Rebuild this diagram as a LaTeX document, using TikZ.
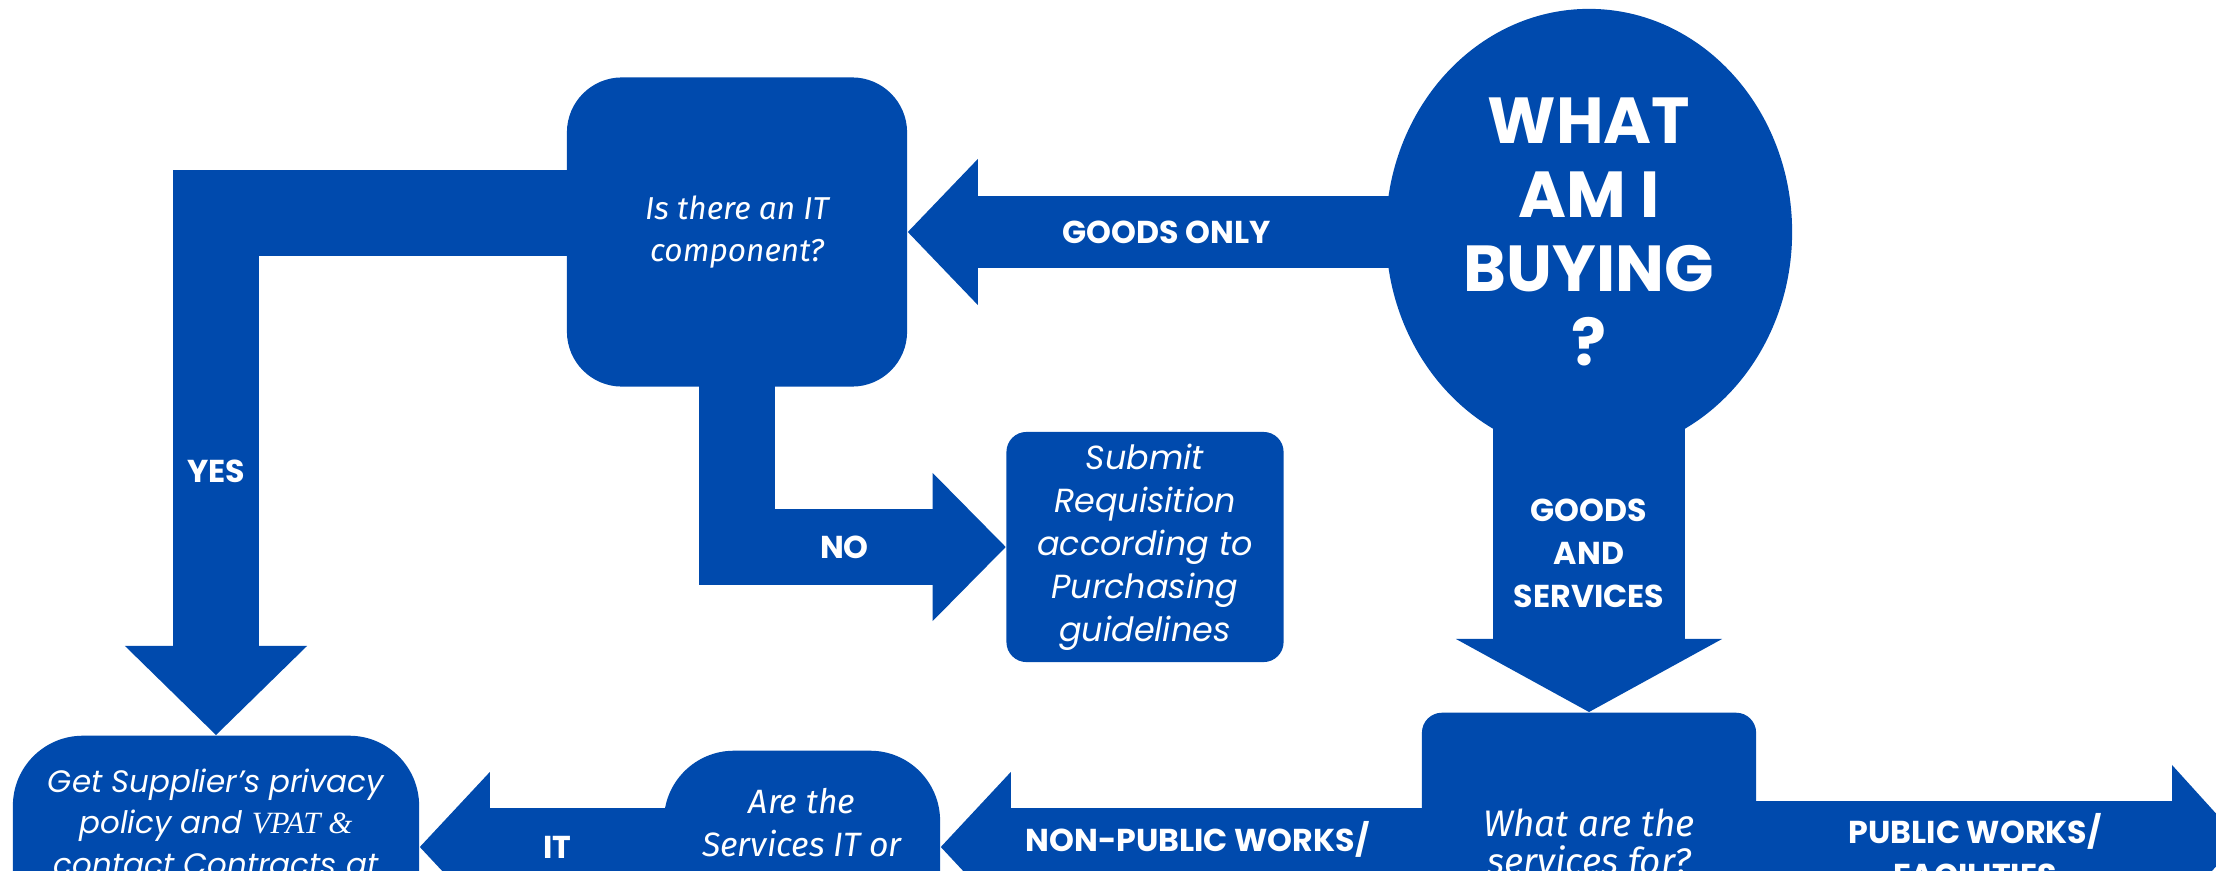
\documentclass[tikz,border=0pt]{standalone}
\usepackage{fontspec}
\newfontfamily\popfont{Poppins}
\newfontfamily\narrowfont{Fira Sans}
\newfontfamily\vpatfont{Liberation Serif}
\usetikzlibrary{shapes.geometric,arrows.meta,backgrounds}

\definecolor{canvablue}{HTML}{004AAD}

\tikzset{
  box/.style={fill=canvablue, text=white, align=center, inner sep=0pt},
  question/.style={box, font=\narrowfont\itshape\fontsize{9.6}{12}\selectfont},
  action/.style={box, font=\popfont\itshape\fontsize{9.5}{12.2}\selectfont},
  flow/.style={draw=canvablue, line join=miter},
  flowlabel/.style={text=white, align=center, font=\popfont\bfseries\fontsize{9}{12.2}\selectfont},
}

\begin{document}
\begin{tikzpicture}[x=0.01cm, y=-0.01cm]
  \useasboundingbox (0,0) rectangle (2216,870);
  \clip (0,0) rectangle (2216,870);

  % top row
  \node[box, ellipse, minimum width=4.06cm, minimum height=4.46cm,
        font=\popfont\bfseries\fontsize{18.5}{21}\selectfont] (buy) at (1589,232)
        {WHAT\\AM I\\BUYING\\?};
  \node[question, minimum width=3.4cm, minimum height=3.09cm, rounded corners=0.55cm,
        font=\narrowfont\itshape\fontsize{9}{12}\selectfont]
        (itq) at (737,232) {Is there an IT\\component?};
  \node[action, minimum width=2.77cm, minimum height=2.3cm, rounded corners=0.2cm]
        (req) at (1145,547) {Submit\\Requisition\\according to\\Purchasing\\guidelines};

  % bottom row, cut off by the page
  \node[action, anchor=north, minimum width=4.06cm, inner ysep=0.33cm, text depth=3cm,
        rounded corners=0.7cm, font=\popfont\itshape\fontsize{8.8}{11.8}\selectfont]
        (sup) at (216,735)
        {Get Supplier’s privacy\\policy and {\vpatfont\itshape VPAT \&}\\contact Contracts at};
  \node[question, anchor=north, minimum width=2.76cm, inner ysep=0.38cm, text depth=3cm,
        rounded corners=0.7cm] (svc) at (802,750) {Are the\\Services IT or};
  \node[question, anchor=north, minimum width=3.34cm, inner ysep=0.96cm, text depth=3cm,
        rounded corners=0.2cm, font=\narrowfont\itshape\fontsize{10.5}{10.8}\selectfont]
        (what) at (1589,712) {What are the\\services for?};

  \coordinate (row) at (0,847);
  \coordinate (pw) at (2240,840);

  \begin{pgfonlayer}{background}
    % goods only
    \draw[flow, line width=0.72cm, -{Triangle[length=0.7cm, width=1.46cm, line width=0pt]}]
      (buy.center) -- node[flowlabel, pos=0.62] {GOODS ONLY} (itq.east);
    \draw[flow, line width=0.86cm, -{Triangle[length=0.89cm, width=1.82cm, line width=0pt]}]
      ([yshift=0.19cm]itq.center) -| node[flowlabel, pos=0.747] {YES} (sup.north);
    \draw[flow, line width=0.76cm, -{Triangle[length=0.73cm, width=1.48cm, line width=0pt]}]
      (itq.center) |- node[flowlabel, pos=0.7] {NO} (req.west);

    % goods and services
    \draw[flow, line width=1.92cm, -{Triangle[length=0.73cm, width=2.66cm, line width=0pt]}]
      (buy.center) -- node[flowlabel, pos=0.669] {GOODS\\AND\\SERVICES} (what.north);
    \draw[flow, line width=0.78cm, -{Triangle[length=0.7cm, width=1.5cm, line width=0pt]}]
      (what.center |- row) -- node[flowlabel, pos=0.604, yshift=-0.11cm]
      {NON-PUBLIC WORKS/\\FACILITIES} (svc.east |- row);
    \draw[flow, line width=0.78cm, -{Triangle[length=0.7cm, width=1.5cm, line width=0pt]}]
      (svc.center |- row) -- node[flowlabel, pos=0.64] {IT} (sup.east |- row);
    \draw[flow, line width=0.78cm, -{Triangle[length=0.68cm, width=1.5cm, line width=0pt]}]
      (what.center |- pw) -- node[flowlabel, pos=0.593, yshift=-0.1cm]
      {PUBLIC WORKS/\\FACILITIES} (pw);
  \end{pgfonlayer}
\end{tikzpicture}
\end{document}
